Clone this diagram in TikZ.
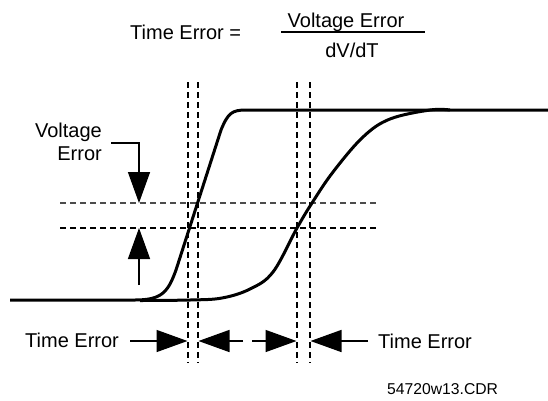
\documentclass[tikz,border=0pt]{standalone}
\usepackage{fontspec}
\setmainfont{Liberation Sans}
\usetikzlibrary{arrows.meta}
\begin{document}
\begin{tikzpicture}[x=1pt,y=-1pt,
  lbl/.style={inner sep=0pt,font=\fontsize{20}{24}\selectfont},
  small/.style={inner sep=0pt,font=\fontsize{15.7}{19}\selectfont},
  curve/.style={line width=3pt,line join=round},
  vdash/.style={line width=1.3pt,dash pattern=on 6pt off 4pt},
  arr/.style={line width=1.5pt,-{Triangle[length=31pt,width=22pt]}}]
\useasboundingbox (0,0) rectangle (548,400);
% formula
\node[lbl,anchor=base west] (te0) at (130,39) {Time Error =};
\node[lbl,anchor=base] (num) at (346,27) {Voltage Error};
\node[lbl,anchor=base] (den) at (352,57) {dV/dT};
\coordinate (fl) at (281,32);
\coordinate (fr) at (425,32);
\draw[line width=1.5pt] (fl) -- (fr);
% dashed verticals
\foreach \x/\n in {188/v1,198/v2,297/v3,310/v4}{
  \coordinate (\n t) at (\x,82);
  \coordinate (\n b) at (\x,363);
  \draw[vdash] (\n t) -- (\n b);
}
% dashed horizontals
\coordinate (h1l) at (60,203); \coordinate (h1r) at (376,203);
\coordinate (h2l) at (60,228); \coordinate (h2r) at (376,228);
\draw[vdash,black!70] (h1l) -- (h1r);
\draw[vdash] (h2l) -- (h2r);
% fast curve
\draw[curve] (10,300) -- (135,300) .. controls (162,300) and (168,292) .. (176,270)
  -- (221,130) .. controls (228,113) and (232,110) .. (246,110) -- (548,110);
% slow curve
\draw[curve] plot[smooth,tension=0.6] coordinates {(140,300.5) (190,300) (222,298) (250,289) (273,272) (297,228) (312,203) (333,172) (363,137) (390,119) (430,110) (450,110)};
% voltage error label and arrows
\node[lbl,anchor=base east] (ve1) at (102,137) {Voltage};
\node[lbl,anchor=base east] (ve2) at (102,160) {Error};
\coordinate (vs) at (111,143);
\coordinate (vt1) at (139,203);
\coordinate (vb) at (139,285);
\coordinate (vt2) at (139,228);
\draw[arr,line join=miter] (vs) -| (vt1);
\draw[arr] (vb) -- (vt2);
% time error labels and arrows
\node[lbl,anchor=base west] (te1) at (25,347) {Time Error};
\node[lbl,anchor=base west] (te2) at (378,348) {Time Error};
\coordinate (a1s) at (130,341); \coordinate (a1t) at (187.5,341);
\coordinate (a2s) at (243,341); \coordinate (a2t) at (198.5,341);
\coordinate (a3s) at (252,341); \coordinate (a3t) at (296.5,341);
\coordinate (a4s) at (368,341); \coordinate (a4t) at (310.5,341);
\draw[arr] (a1s) -- (a1t);
\draw[arr] (a2s) -- (a2t);
\draw[arr] (a3s) -- (a3t);
\draw[arr] (a4s) -- (a4t);
\node[small,anchor=base west] (fn) at (387,394) {54720w13.CDR};
\end{tikzpicture}
\end{document}
